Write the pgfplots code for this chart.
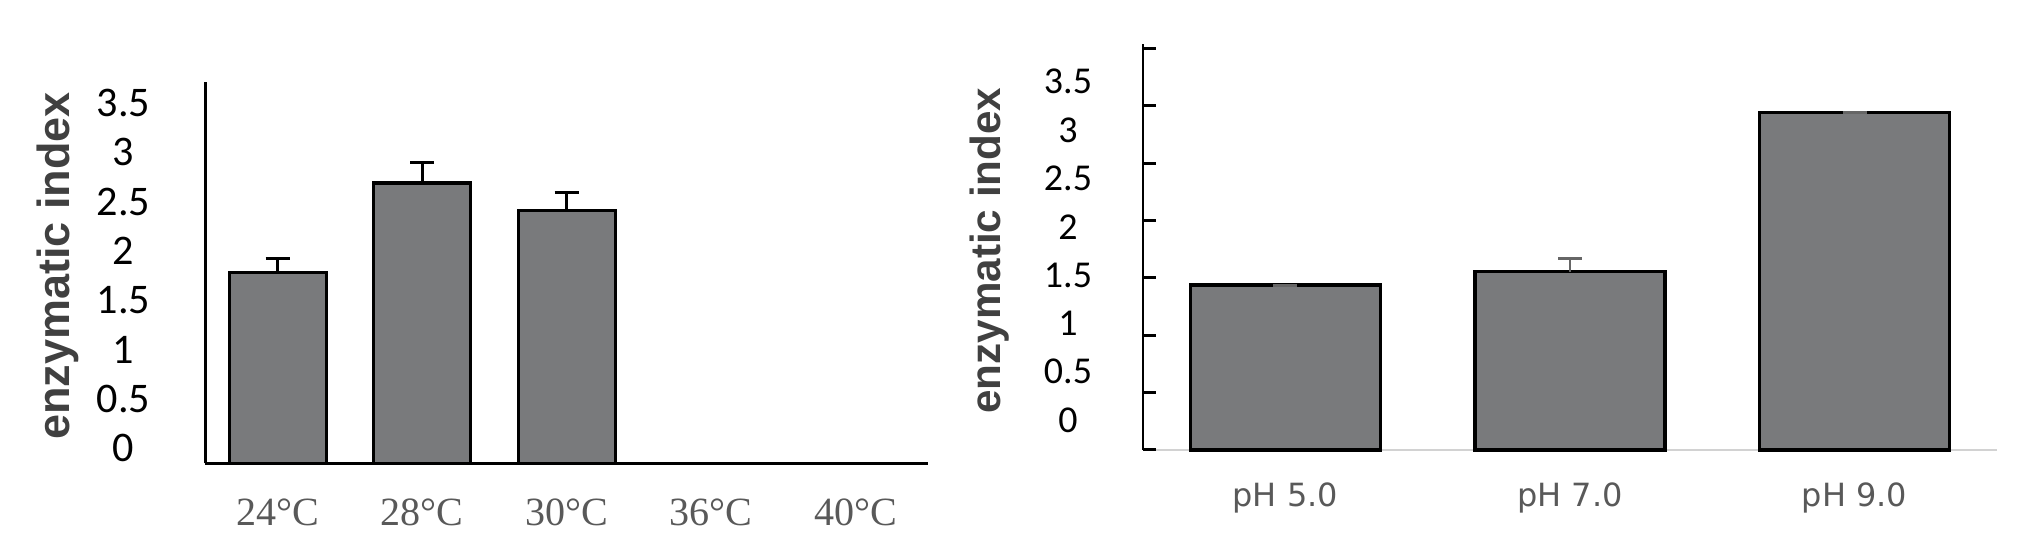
\documentclass[border=0pt]{standalone}
\usepackage{fontspec}
\usepackage{pgfplots}
\pgfplotsset{compat=1.18}
\newfontfamily\lserif{Liberation Serif}
\newfontfamily\lsans{Liberation Sans}
\newfontfamily\carl{Carlito}
\newfontfamily\dvs{DejaVu Sans}
\definecolor{barfill}{RGB}{121,122,124}
\definecolor{labgray}{RGB}{64,64,64}
\definecolor{tickgray}{RGB}{89,89,89}
\definecolor{axgray}{RGB}{210,210,210}

\begin{document}
\begin{tikzpicture}
\path[use as bounding box] (0,0) rectangle (20.25cm,5.46cm);

% temperature
\begin{axis}[
  at={(2.054cm,0.825cm)}, anchor=south west,
  scale only axis, width=7.225cm, height=3.815cm,
  xmin=-0.5, xmax=4.5, ymin=0, ymax=3.85,
  ybar, bar width=0.671,
  axis x line*=bottom, axis y line*=left,
  axis line style={black, line width=0.85pt},
  major tick length=0pt,
  xtick={0,1,2,3,4},
  xticklabels={24°C,28°C,30°C,36°C,40°C},
  xticklabel style={anchor=center, yshift=-0.485cm, font=\lserif\fontsize{11.4}{12}\selectfont, text=tickgray},
  ytick={0.156,0.654,1.151,1.649,2.146,2.644,3.141,3.639},
  yticklabels={0,0.5,1,1.5,2,2.5,3,3.5},
  yticklabel style={anchor=center, xshift=-0.82cm, font=\carl\fontsize{12}{12}\selectfont},
  ylabel={enzymatic index},
  every axis y label/.style={at={(axis description cs:-0.204,0.518)}, rotate=90, anchor=center, font=\lsans\bfseries\fontsize{12.8}{14}\selectfont, text=labgray},
  clip=false,
]
\addplot[fill=barfill, draw=black, line width=0.9pt,
  error bars/.cd, y dir=plus, y explicit,
  error bar style={black, line width=0.85pt},
  error mark options={rotate=90, mark size=0.12cm, line width=0.85pt}]
  coordinates {(0,1.93) +- (0,0.14) (1,2.83) +- (0,0.21) (2,2.55) +- (0,0.18)};
\end{axis}

% pH
\begin{axis}[
  at={(11.43cm,0.96cm)}, anchor=south west,
  scale only axis, width=8.54cm, height=4.06cm,
  xmin=-0.5, xmax=2.5, ymin=0, ymax=3.537,
  ybar, bar width=0.667,
  axis x line*=bottom, axis y line*=left,
  x axis line style={draw=axgray, line width=0.6pt},
  y axis line style={draw=black, line width=0.85pt},
  major tick length=0pt,
  xtick={0,1,2},
  xticklabels={pH 5.0,pH 7.0,pH 9.0},
  xticklabel style={anchor=center, yshift=-0.475cm, font=\dvs\fontsize{9.1}{11}\selectfont, text=tickgray},
  ytick={0.261,0.682,1.103,1.524,1.945,2.366,2.787,3.208},
  yticklabels={0,0.5,1,1.5,2,2.5,3,3.5},
  yticklabel style={anchor=center, xshift=-0.75cm, font=\carl\fontsize{10.8}{12}\selectfont},
  extra y ticks={0,0.5,1,1.5,2,2.5,3,3.5},
  extra y tick labels={},
  extra y tick style={major tick length=0.13cm, tick align=inside, tick style={black, line width=0.85pt}},
  ylabel={enzymatic index},
  every axis y label/.style={at={(axis description cs:-0.18,0.491)}, rotate=90, anchor=center, font=\lsans\bfseries\fontsize{12}{14}\selectfont, text=labgray},
  clip=false,
]
\addplot[fill=barfill, draw=black, line width=0.9pt,
  error bars/.cd, y dir=plus, y explicit,
  error bar style={black!60, line width=0.85pt},
  error mark options={rotate=90, mark size=0.12cm, line width=0.85pt, black!60}]
  coordinates {(0,1.437) +- (0,0) (1,1.553) +- (0,0.117) (2,2.94) +- (0,0)};
\end{axis}
\end{tikzpicture}
\end{document}
